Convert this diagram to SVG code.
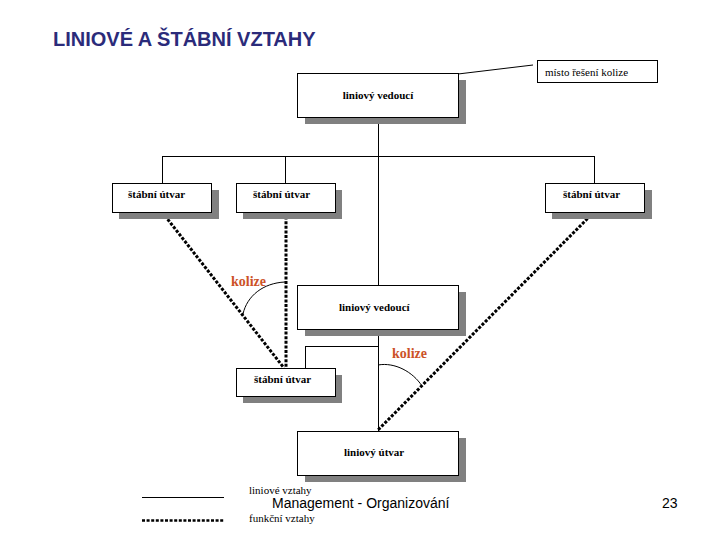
<svg xmlns="http://www.w3.org/2000/svg" width="720" height="540" viewBox="0 0 720 540">
<style>
.box{fill:#fff;stroke:#000;stroke-width:1}
.sh{fill:#808080}
.bt{font-family:"Liberation Serif",serif;font-weight:bold;font-size:11px;fill:#000}
.nt{font-family:"Liberation Serif",serif;font-size:11px;fill:#000}
.kol{font-family:"Liberation Serif",serif;font-weight:bold;font-size:14px;fill:#cc5228}
.ln{fill:none;stroke:#000;stroke-width:1}
.dot{fill:none;stroke:#000;stroke-width:3;stroke-dasharray:3 1.6}
.sans{font-family:"Liberation Sans",Arial,sans-serif;font-size:14px;fill:#000}
</style>
<rect width="720" height="540" fill="#fff"/>
<text x="53" y="46" font-family="'Liberation Sans',Arial,sans-serif" font-weight="bold" font-size="20" fill="#2b2b7a">LINIOVÉ A ŠTÁBNÍ VZTAHY</text>

<g id="connectors">
<path class="ln" d="M458 74 L533 65"/>
<path class="ln" d="M378.5 117 V286 M378.5 329 V431"/>
<path class="ln" d="M162.5 156.5 H594.5 M162.5 156 V183 M285.5 156 V183 M594.5 156 V183"/>
<path class="ln" d="M305.5 346.5 H378.5 M305.5 346 V368"/>
<path class="dot" d="M162 212 L284 368"/>
<path class="dot" d="M286 212 V368"/>
<path class="dot" d="M594 212 L378 430"/>
<path class="ln" d="M285 282 C263 283 247 296 243 314"/>
<path class="ln" d="M378 365 C395 362 413 372 422 386"/>
</g>

<g id="misto">
<rect class="box" x="537.5" y="60.5" width="120" height="22"/>
<text class="nt" x="545" y="76">místo řešení kolize</text>
</g>

<g id="vedouci1">
<rect class="sh" x="305" y="80" width="161" height="44"/>
<rect class="box" x="297.5" y="73.5" width="161" height="44"/>
<text class="bt" x="378" y="99" text-anchor="middle">liniový vedoucí</text>
</g>

<g id="stab1">
<rect class="sh" x="119" y="190" width="100" height="29"/>
<rect class="box" x="112.5" y="183.5" width="99" height="29"/>
<text class="bt" x="128" y="198">štábní útvar</text>
</g>

<g id="stab2">
<rect class="sh" x="243" y="190" width="99" height="29"/>
<rect class="box" x="236.5" y="183.5" width="99" height="29"/>
<text class="bt" x="253" y="198">štábní útvar</text>
</g>

<g id="stab3">
<rect class="sh" x="552" y="190" width="100" height="29"/>
<rect class="box" x="545.5" y="183.5" width="99" height="29"/>
<text class="bt" x="563" y="198">štábní útvar</text>
</g>

<g id="kolize1">
<text class="kol" x="231" y="286">kolize</text>
</g>

<g id="vedouci2">
<rect class="sh" x="305" y="292" width="161" height="44"/>
<rect class="box" x="297.5" y="285.5" width="161" height="44"/>
<text class="bt" x="339" y="311">liniový vedoucí</text>
</g>

<g id="kolize2">
<text class="kol" x="392" y="358">kolize</text>
</g>

<g id="stab4">
<rect class="sh" x="243" y="375" width="99" height="28"/>
<rect class="box" x="236.5" y="368.5" width="99" height="28"/>
<text class="bt" x="254" y="383">štábní útvar</text>
</g>

<g id="utvar">
<rect class="sh" x="305" y="438" width="161" height="44"/>
<rect class="box" x="297.5" y="431.5" width="161" height="44"/>
<text class="bt" x="344" y="456">liniový útvar</text>
</g>

<g id="legend">
<path class="ln" d="M142 497.5 H224"/>
<path fill="none" stroke="#000" stroke-width="2.5" stroke-dasharray="3 1.6" d="M142 520.5 H224"/>
<text class="nt" x="249" y="494">liniové vztahy</text>
<text class="nt" x="249" y="522">funkční vztahy</text>
</g>

<text class="sans" x="272" y="508">Management - Organizování</text>
<text class="sans" x="662" y="508">23</text>
</svg>
